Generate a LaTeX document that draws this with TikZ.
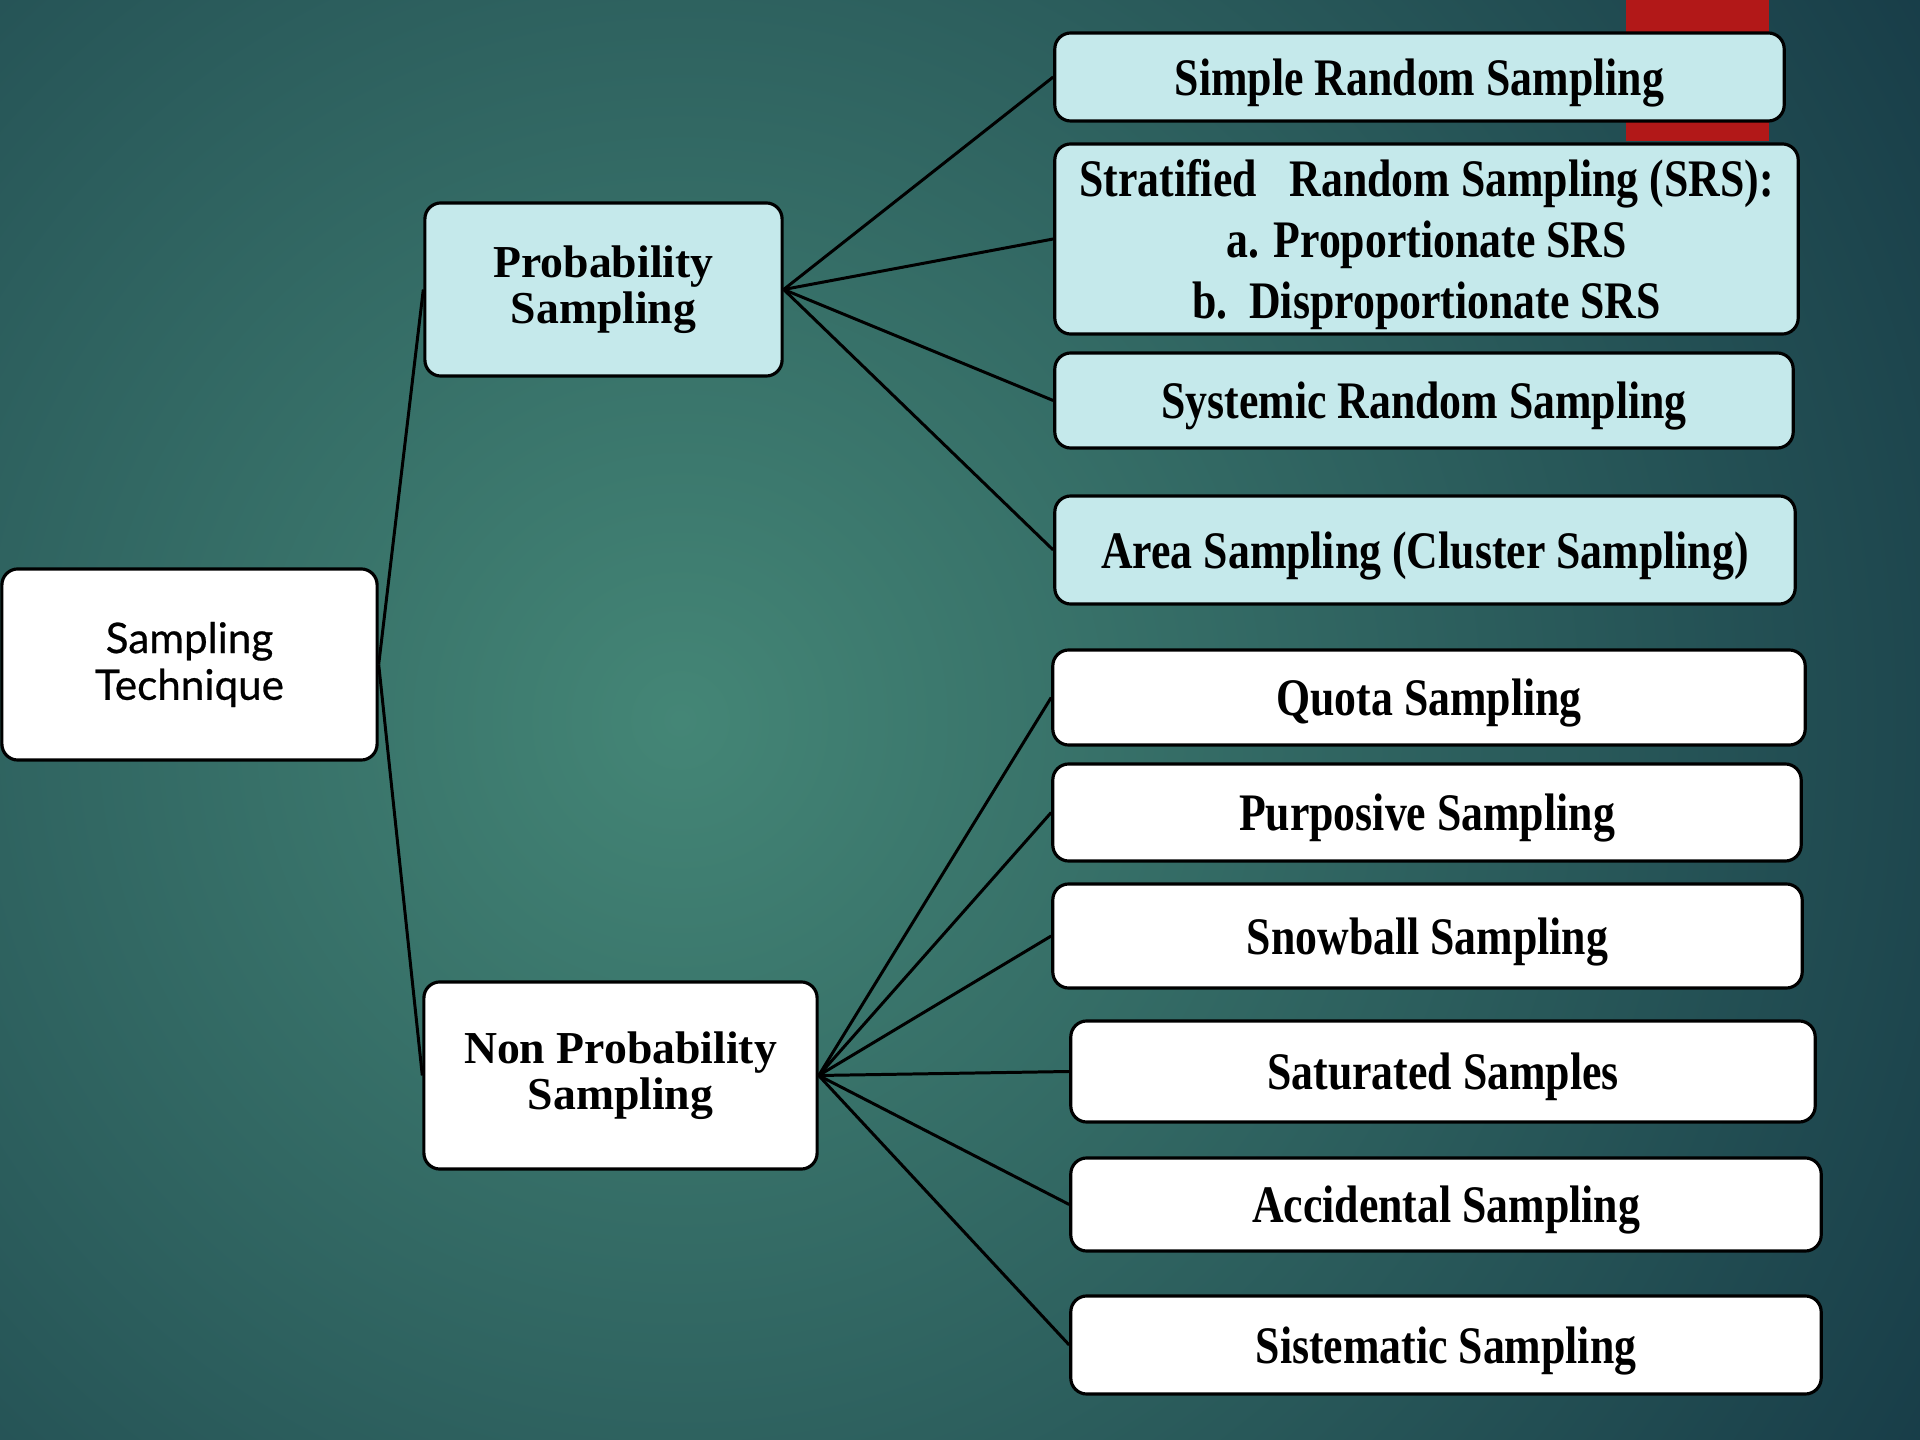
\documentclass[tikz,border=0pt]{standalone}
\usepackage{fontspec}
\setmainfont{Liberation Serif}
\newfontfamily\condfont[FakeStretch=0.83]{Liberation Serif}
\newfontfamily\gillfont[FakeBold=0.6]{Lato}
\definecolor{bgdark}{RGB}{16,48,64}
\definecolor{bglight}{RGB}{68,134,118}
\definecolor{boxblue}{RGB}{197,233,235}
\definecolor{redbar}{RGB}{178,24,24}
\tikzset{
  box/.style={draw=black, line width=0.9pt, rounded corners=1.6mm, inner sep=0pt, align=center, text=black},
  bluebox/.style={box, fill=boxblue},
  whitebox/.style={box, fill=white},
  rightfont/.style={font=\condfont\bfseries\fontsize{15}{17.4}\selectfont, text depth=0pt},
  midfont/.style={font=\bfseries\fontsize{13}{13}\selectfont},
  conn/.style={line width=0.85pt, draw=black}
}
\begin{document}
\begin{tikzpicture}[x=0.01cm,y=-0.01cm]
\useasboundingbox (0,0) rectangle (1920,1440);
\begin{scope}
\clip (0,0) rectangle (1920,1440);
\fill[bgdark] (0,0) rectangle (1920,1440);
\shade[inner color=bglight, outer color=bgdark] (680,720) circle[radius=1700];
\end{scope}
\fill[redbar] (1626,0) rectangle (1769,141);

% root
\node[whitebox, minimum width=3.75cm, minimum height=1.91cm, font=\gillfont\fontsize{12}{13.3}\selectfont] (root) at (189.5,664.5) {Sampling\\Technique};
% level 1
\node[bluebox, midfont, minimum width=3.57cm, minimum height=1.73cm] (prob) at (603.5,289.5) {Probability\\Sampling};
\node[whitebox, midfont, minimum width=3.93cm, minimum height=1.87cm] (nonprob) at (620.5,1075.5) {Non Probability\\Sampling};
% probability children
\node[bluebox, rightfont, minimum width=7.29cm, minimum height=0.88cm] (simple) at (1419.5,77) {Simple Random Sampling};
\node[bluebox, rightfont, minimum width=7.43cm, minimum height=1.90cm] (strat) at (1426.5,239) {Stratified\ \ \ Random Sampling (SRS):\\a. Proportionate SRS\\b.\ \ Disproportionate SRS};
\node[bluebox, rightfont, minimum width=7.38cm, minimum height=0.95cm] (syst) at (1424,400.5) {Systemic Random Sampling};
\node[bluebox, rightfont, minimum width=7.40cm, minimum height=1.08cm] (area) at (1425,550) {Area Sampling (Cluster Sampling)};
% non probability children
\node[whitebox, rightfont, minimum width=7.52cm, minimum height=0.95cm] (quota) at (1429,697.5) {Quota Sampling};
\node[whitebox, rightfont, minimum width=7.48cm, minimum height=0.97cm] (purp) at (1427,812.5) {Purposive Sampling};
\node[whitebox, rightfont, minimum width=7.49cm, minimum height=1.04cm] (snow) at (1427.5,936) {Snowball Sampling};
\node[whitebox, rightfont, minimum width=7.44cm, minimum height=1.01cm] (sat) at (1443,1071.5) {Saturated Samples};
\node[whitebox, rightfont, minimum width=7.50cm, minimum height=0.93cm] (acc) at (1446,1204.5) {Accidental Sampling};
\node[whitebox, rightfont, minimum width=7.50cm, minimum height=0.98cm] (sist) at (1446,1345) {Sistematic Sampling};

% connectors
\draw[conn] (root.east) -- (prob.west);
\draw[conn] (root.east) -- (nonprob.west);
\foreach \c in {simple,strat,syst,area}
  \draw[conn] (prob.east) -- (\c.west);
\foreach \c in {quota,purp,snow,sat,acc,sist}
  \draw[conn] (nonprob.east) -- (\c.west);
\end{tikzpicture}
\end{document}
